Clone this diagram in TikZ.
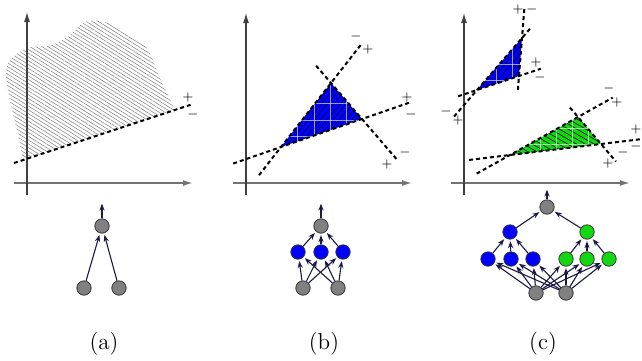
\documentclass[tikz,border=0pt]{standalone}
\usetikzlibrary{arrows.meta,patterns.meta,calc}
\definecolor{nblue}{RGB}{0,0,255}
\definecolor{ngreen}{RGB}{20,215,20}
\definecolor{edgecol}{RGB}{25,25,70}
\definecolor{ngray}{RGB}{128,128,128}
\tikzset{
  axis/.style={line width=0.55pt, draw=black!75, -{Latex[length=5pt,width=3pt]}},
  xaxis/.style={line width=0.8pt, draw=black!55, -{Latex[length=5pt,width=3pt]}},
  sep/.style={line width=1pt, dash pattern=on 2pt off 1.5pt},
  pm/.style={font=\fontsize{6}{6}\selectfont, inner sep=0pt},
  neu/.style={circle, draw=black!80, line width=0.4pt, minimum size=7.2pt, inner sep=0pt, fill=ngray},
  bneu/.style={neu, fill=nblue},
  gneu/.style={neu, fill=ngreen},
  edge/.style={draw=edgecol, line width=0.55pt, -{Stealth[length=3.5pt,width=2.6pt]}, shorten >=0.8pt},
  hatchb/.style={pattern={Lines[angle=50,distance=2.4pt,line width=0.3pt]}, pattern color=black},
  hatchg/.style={pattern={Lines[angle=-30,distance=2.2pt,line width=0.3pt]}, pattern color=black},
  gridw/.style={draw=white, line width=0.3pt, opacity=0.6},
  captext/.style={font=\fontsize{11.5}{13}\selectfont, inner sep=0pt}
}
\begin{document}
\begin{tikzpicture}[x=0.5pt,y=-0.5pt]
\useasboundingbox (0,0) rectangle (642,360);

% ---------------- panel (a) ----------------
\fill[pattern={Lines[angle=-32,distance=1.6pt,line width=0.3pt]}, pattern color=black!45]
  plot[smooth, tension=0.55] coordinates {(175,110) (160,78) (148,50) (130,35) (105,22) (85,22) (70,35) (52,45) (27,48) (10,60) (6,75) (10,100) (18,135) (23,160)} -- cycle;
\draw[xaxis] (14,183) -- (193,183);
\draw[axis] (27,195) -- (27,12);
\coordinate (a1) at (14,163);
\coordinate (a2) at (193,104);
\draw[sep] (a1) -- (a2);
\node[pm] (ap) at (188,97) {$+$};
\node[pm] (am) at (193,114) {$-$};

% ---------------- panel (b) ----------------
\coordinate (A) at (281,147);
\coordinate (B) at (331,83);
\coordinate (C) at (362,119);
\fill[nblue] (A) -- (B) -- (C) -- cycle;
\fill[hatchb] (A) -- (B) -- (C) -- cycle;
\begin{scope}
  \clip (A) -- (B) -- (C) -- cycle;
  \foreach \x in {297,314,330,346}{\draw[gridw] (\x,60) -- (\x,160);}
  \foreach \y in {103,120,136}{\draw[gridw] (260,\y) -- (380,\y);}
\end{scope}
\draw[xaxis] (233,183) -- (412,183);
\draw[axis] (246,195) -- (246,13);
\draw[sep] ($(A)!-0.59!(C)$) -- ($(A)!1.6!(C)$);
\draw[sep] ($(A)!-0.44!(B)$) -- ($(A)!1.62!(B)$);
\draw[sep] ($(B)!-0.48!(C)$) -- ($(B)!2.13!(C)$);
\node[pm] (bm1) at (356,36) {$-$};
\node[pm] (bp1) at (368,49) {$+$};
\node[pm] (bp2) at (407,97) {$+$};
\node[pm] (bm2) at (411,114) {$-$};
\node[pm] (bm3) at (405,152) {$-$};
\node[pm] (bp3) at (387,164) {$+$};

% ---------------- panel (c) ----------------
\coordinate (P1) at (477,90);
\coordinate (P2) at (522,38);
\coordinate (P3) at (519,76);
\coordinate (Q1) at (510,155);
\coordinate (Q2) at (578,117);
\coordinate (Q3) at (601,144);
\fill[nblue] (P1) -- (P2) -- (P3) -- cycle;
\fill[hatchb] (P1) -- (P2) -- (P3) -- cycle;
\begin{scope}
  \clip (P1) -- (P2) -- (P3) -- cycle;
  \foreach \x in {496,512}{\draw[gridw] (\x,30) -- (\x,100);}
  \foreach \y in {64,80}{\draw[gridw] (470,\y) -- (530,\y);}
\end{scope}
\fill[ngreen] (Q1) -- (Q2) -- (Q3) -- cycle;
\fill[hatchg] (Q1) -- (Q2) -- (Q3) -- cycle;
\begin{scope}
  \clip (Q1) -- (Q2) -- (Q3) -- cycle;
  \foreach \x in {540,556,572,588}{\draw[gridw] (\x,110) -- (\x,160);}
  \foreach \y in {128,144}{\draw[gridw] (500,\y) -- (610,\y);}
\end{scope}
\draw[xaxis] (451,183) -- (630,183);
\draw[axis] (464,195) -- (464,13);
\draw[sep] ($(P1)!-0.45!(P3)$) -- ($(P1)!1.52!(P3)$);
\draw[sep] ($(P1)!-0.51!(P2)$) -- ($(P1)!1.18!(P2)$);
\draw[sep] ($(P2)!-0.76!(P3)$) -- ($(P2)!1.37!(P3)$);
\draw[sep] ($(Q1)!-0.45!(Q3)$) -- ($(Q1)!1.44!(Q3)$);
\draw[sep] ($(Q1)!-0.49!(Q2)$) -- ($(Q1)!1.51!(Q2)$);
\draw[sep] ($(Q2)!-0.35!(Q3)$) -- ($(Q2)!1.65!(Q3)$);
\node[pm] (cp1) at (518,9) {$+$};
\node[pm] (cm1) at (532,9) {$-$};
\node[pm] (cp2) at (536,62) {$+$};
\node[pm] (cm2) at (540,77) {$-$};
\node[pm] (cm3) at (446,111) {$-$};
\node[pm] (cp3) at (458,120) {$+$};
\node[pm] (cm4) at (609,88) {$-$};
\node[pm] (cp4) at (617,102) {$+$};
\node[pm] (cp5) at (636,129) {$+$};
\node[pm] (cm5) at (636,146) {$-$};
\node[pm] (cm6) at (623,152) {$-$};
\node[pm] (cp6) at (608,163) {$+$};

% ---------------- networks ----------------
% (a)
\node[neu] (na0) at (102,226) {};
\node[neu] (na1) at (84,288) {};
\node[neu] (na2) at (119,288) {};
\coordinate (oa) at (102,202);
\draw[edge] (na1) -- (na0);
\draw[edge] (na2) -- (na0);
\draw[edge] (na0) -- (oa);

% (b)
\node[neu] (nb0) at (321,226) {};
\node[bneu] (nb1) at (298,252) {};
\node[bneu] (nb2) at (321,252) {};
\node[bneu] (nb3) at (343,252) {};
\node[neu] (nbi1) at (303,288) {};
\node[neu] (nbi2) at (338,288) {};
\coordinate (ob) at (321,202);
\foreach \i in {1,2}{\foreach \h in {1,2,3}{\draw[edge] (nbi\i) -- (nb\h);}}
\foreach \h in {1,2,3}{\draw[edge] (nb\h) -- (nb0);}
\draw[edge] (nb0) -- (ob);

% (c)
\node[neu] (nc0) at (547,207) {};
\node[bneu] (ncb) at (510,232) {};
\node[gneu] (ncg) at (587,232) {};
\node[bneu] (nc1) at (488,259) {};
\node[bneu] (nc2) at (511,259) {};
\node[bneu] (nc3) at (533,259) {};
\node[gneu] (nc4) at (566,259) {};
\node[gneu] (nc5) at (587,259) {};
\node[gneu] (nc6) at (609,259) {};
\node[neu] (nci1) at (536,293) {};
\node[neu] (nci2) at (566,293) {};
\coordinate (oc) at (547,188);
\foreach \i in {1,2}{\foreach \h in {1,...,6}{\draw[edge] (nci\i) -- (nc\h);}}
\foreach \h in {1,2,3}{\draw[edge] (nc\h) -- (ncb);}
\foreach \h in {4,5,6}{\draw[edge] (nc\h) -- (ncg);}
\draw[edge] (ncb) -- (nc0);
\draw[edge] (ncg) -- (nc0);
\draw[edge] (nc0) -- (oc);

% captions
\node[captext] (la) at (104,344) {(a)};
\node[captext] (lb) at (324,344) {(b)};
\node[captext] (lc) at (543,344) {(c)};
\end{tikzpicture}
\end{document}
